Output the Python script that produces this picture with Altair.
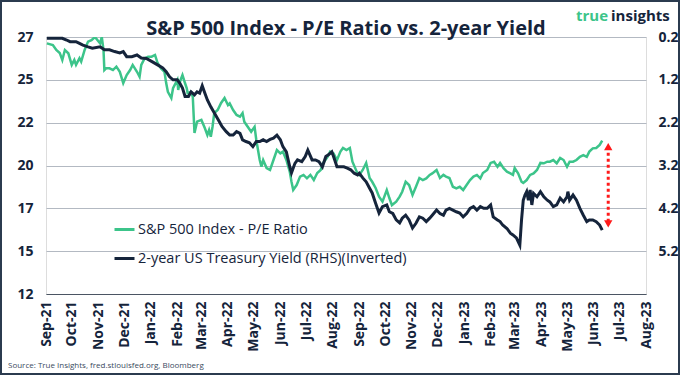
import altair as alt
import pandas as pd

PE_NAME = "S&P 500 Index - P/E Ratio"
Y2_NAME = "2-year US Treasury Yield (RHS)(Inverted)"
TITLE = "S&P 500 Index - P/E Ratio vs. 2-year Yield"

pe_dates = [
    "2021-09-02", "2021-09-09", "2021-09-13", "2021-09-17", "2021-09-20", "2021-09-23", "2021-09-27",
    "2021-10-01", "2021-10-04", "2021-10-06", "2021-10-10", "2021-10-12", "2021-10-16", "2021-10-20",
    "2021-10-24", "2021-10-28", "2021-11-03", "2021-11-05", "2021-11-07", "2021-11-08", "2021-11-10",
    "2021-11-14", "2021-11-18", "2021-11-22", "2021-11-26", "2021-11-30", "2021-12-04", "2021-12-08",
    "2021-12-11", "2021-12-16", "2021-12-19", "2021-12-21", "2021-12-25", "2021-12-29", "2022-01-02",
    "2022-01-06", "2022-01-09", "2022-01-13", "2022-01-17", "2022-01-19", "2022-01-21", "2022-01-25",
    "2022-01-27", "2022-02-01", "2022-02-02", "2022-02-04", "2022-02-07", "2022-02-10", "2022-02-12",
    "2022-02-13", "2022-02-17", "2022-02-19", "2022-02-21", "2022-02-24", "2022-03-01", "2022-03-05",
    "2022-03-08", "2022-03-10", "2022-03-12", "2022-03-14", "2022-03-16", "2022-03-20", "2022-03-24",
    "2022-03-28", "2022-04-01", "2022-04-03", "2022-04-07", "2022-04-11", "2022-04-15", "2022-04-18",
    "2022-04-20", "2022-04-24", "2022-04-28", "2022-05-02", "2022-05-04", "2022-05-08", "2022-05-10",
    "2022-05-12", "2022-05-16", "2022-05-20", "2022-05-24", "2022-05-28", "2022-06-01", "2022-06-04",
    "2022-06-08", "2022-06-12", "2022-06-14", "2022-06-16", "2022-06-20", "2022-06-24", "2022-06-28",
    "2022-07-02", "2022-07-06", "2022-07-10", "2022-07-14", "2022-07-18", "2022-07-21", "2022-07-26",
    "2022-07-29", "2022-08-02", "2022-08-06", "2022-08-10", "2022-08-13", "2022-08-17", "2022-08-21",
    "2022-08-24", "2022-08-29", "2022-09-01", "2022-09-05", "2022-09-09", "2022-09-13", "2022-09-16",
    "2022-09-20", "2022-09-24", "2022-09-28", "2022-10-03", "2022-10-06", "2022-10-09", "2022-10-14",
    "2022-10-18", "2022-10-21", "2022-10-25", "2022-10-29", "2022-11-02", "2022-11-06", "2022-11-10",
    "2022-11-14", "2022-11-18", "2022-11-22", "2022-11-25", "2022-11-30", "2022-12-04", "2022-12-08",
    "2022-12-11", "2022-12-15", "2022-12-19", "2022-12-23", "2022-12-27", "2022-12-31", "2023-01-04",
    "2023-01-08", "2023-01-12", "2023-01-16", "2023-01-20", "2023-01-23", "2023-01-28", "2023-02-01",
    "2023-02-05", "2023-02-09", "2023-02-12", "2023-02-16", "2023-02-20", "2023-02-24", "2023-02-27",
    "2023-03-01", "2023-03-05", "2023-03-09", "2023-03-11", "2023-03-15", "2023-03-19", "2023-03-23",
    "2023-03-27", "2023-03-31", "2023-04-04", "2023-04-08", "2023-04-11", "2023-04-15", "2023-04-19",
    "2023-04-23", "2023-04-27", "2023-05-01", "2023-05-04", "2023-05-08", "2023-05-12", "2023-05-16",
    "2023-05-20", "2023-05-24", "2023-05-27", "2023-05-31", "2023-06-04", "2023-06-08", "2023-06-11",
]
pe_values = [
    26.83, 26.73, 26.44, 26.27, 25.86, 26.44, 26.25,
    25.57, 25.86, 25.57, 25.96, 25.76, 26.44, 26.93,
    27.02, 27.20, 26.83, 27.20, 26.44, 25.27, 25.37,
    25.37, 25.27, 25.47, 25.17, 24.51, 24.98, 25.27,
    25.57, 25.17, 24.88, 25.57, 25.96, 26.05, 26.05,
    26.15, 25.68, 25.37, 25.17, 24.51, 24.00, 23.64,
    24.21, 24.69, 24.11, 24.59, 24.98, 24.50, 24.21,
    23.93, 23.99, 23.71, 21.60, 22.26, 22.36, 21.89,
    21.48, 21.77, 21.38, 21.96, 22.76, 22.94, 23.35,
    23.64, 23.23, 23.33, 22.94, 22.65, 22.55, 22.76,
    22.26, 21.96, 21.67, 21.96, 21.19, 20.02, 19.63,
    20.02, 19.55, 19.44, 20.02, 20.60, 20.41, 20.51,
    20.02, 19.34, 18.75, 18.27, 18.56, 19.05, 19.15,
    18.95, 19.15, 18.85, 19.26, 19.44, 19.85, 20.21,
    20.51, 20.41, 20.02, 20.51, 20.72, 20.60, 20.72,
    19.92, 19.34, 19.15, 19.44, 19.85, 18.97, 18.75,
    18.39, 17.88, 17.59, 18.27, 17.80, 17.39, 17.59,
    17.88, 18.17, 18.75, 18.56, 17.98, 18.46, 18.97,
    18.85, 18.95, 19.15, 19.24, 19.44, 18.97, 19.15,
    19.05, 18.97, 18.46, 18.37, 18.46, 18.27, 18.56,
    18.85, 19.05, 19.15, 18.95, 19.26, 19.44, 19.85,
    19.92, 19.63, 19.85, 19.54, 19.34, 19.24, 19.15,
    19.55, 19.24, 18.75, 18.68, 18.85, 19.15, 19.24,
    19.44, 19.85, 19.83, 19.92, 19.92, 20.02, 19.83,
    20.14, 20.02, 19.63, 19.92, 19.92, 20.02, 20.21,
    20.31, 20.21, 20.51, 20.70, 20.72, 20.90, 21.15,
]

y2_dates = [
    "2021-09-02", "2021-09-11", "2021-09-20", "2021-09-25", "2021-09-29", "2021-10-06", "2021-10-10",
    "2021-10-14", "2021-10-20", "2021-10-25", "2021-11-03", "2021-11-08", "2021-11-14", "2021-11-20",
    "2021-11-26", "2021-11-30", "2021-12-04", "2021-12-10", "2021-12-16", "2021-12-21", "2021-12-27",
    "2022-01-03", "2022-01-09", "2022-01-15", "2022-01-19", "2022-01-23", "2022-01-27", "2022-02-01",
    "2022-02-04", "2022-02-07", "2022-02-10", "2022-02-14", "2022-02-17", "2022-02-21", "2022-02-24",
    "2022-02-27", "2022-03-02", "2022-03-05", "2022-03-08", "2022-03-12", "2022-03-16", "2022-03-22",
    "2022-03-25", "2022-03-30", "2022-04-03", "2022-04-07", "2022-04-11", "2022-04-15", "2022-04-18",
    "2022-04-22", "2022-04-26", "2022-04-30", "2022-05-04", "2022-05-08", "2022-05-12", "2022-05-16",
    "2022-05-20", "2022-05-24", "2022-05-28", "2022-06-01", "2022-06-04", "2022-06-08", "2022-06-12",
    "2022-06-14", "2022-06-18", "2022-06-21", "2022-06-26", "2022-06-30", "2022-07-03", "2022-07-08",
    "2022-07-12", "2022-07-16", "2022-07-20", "2022-07-24", "2022-07-27", "2022-07-31", "2022-08-02",
    "2022-08-06", "2022-08-10", "2022-08-14", "2022-08-18", "2022-08-22", "2022-08-26", "2022-08-30",
    "2022-09-01", "2022-09-05", "2022-09-09", "2022-09-13", "2022-09-16", "2022-09-20", "2022-09-24",
    "2022-09-28", "2022-10-03", "2022-10-06", "2022-10-10", "2022-10-14", "2022-10-18", "2022-10-21",
    "2022-10-25", "2022-10-29", "2022-11-02", "2022-11-06", "2022-11-10", "2022-11-14", "2022-11-18",
    "2022-11-22", "2022-11-25", "2022-11-30", "2022-12-04", "2022-12-08", "2022-12-11", "2022-12-15",
    "2022-12-19", "2022-12-23", "2022-12-27", "2022-12-31", "2023-01-04", "2023-01-08", "2023-01-12",
    "2023-01-16", "2023-01-20", "2023-01-24", "2023-01-28", "2023-02-01", "2023-02-04", "2023-02-09",
    "2023-02-12", "2023-02-15", "2023-02-20", "2023-02-24", "2023-02-27", "2023-03-03", "2023-03-07",
    "2023-03-09", "2023-03-11", "2023-03-13", "2023-03-15", "2023-03-17", "2023-03-19", "2023-03-21",
    "2023-03-23", "2023-03-27", "2023-03-31", "2023-04-04", "2023-04-08", "2023-04-11", "2023-04-15",
    "2023-04-19", "2023-04-23", "2023-04-27", "2023-05-01", "2023-05-02", "2023-05-04", "2023-05-08",
    "2023-05-12", "2023-05-16", "2023-05-20", "2023-05-24", "2023-05-27", "2023-05-31", "2023-06-04",
    "2023-06-08", "2023-06-11",
]
y2_values = [
    0.23, 0.23, 0.23, 0.27, 0.31, 0.31, 0.35,
    0.39, 0.43, 0.46, 0.43, 0.50, 0.50, 0.54,
    0.57, 0.54, 0.66, 0.66, 0.62, 0.69, 0.70,
    0.78, 0.85, 0.92, 1.01, 1.13, 1.20, 1.20,
    1.28, 1.39, 1.59, 1.59, 1.48, 1.55, 1.48,
    1.51, 1.34, 1.51, 1.67, 1.83, 1.97, 2.18,
    2.29, 2.41, 2.49, 2.49, 2.41, 2.45, 2.60,
    2.64, 2.67, 2.76, 2.64, 2.64, 2.60, 2.64,
    2.59, 2.56, 2.49, 2.60, 2.76, 2.88, 3.23,
    3.37, 3.15, 3.07, 3.11, 2.99, 2.84, 3.07,
    3.07, 3.11, 3.23, 2.99, 2.95, 2.88, 2.99,
    3.23, 3.23, 3.23, 3.26, 3.30, 3.38, 3.42,
    3.38, 3.49, 3.58, 3.73, 3.84, 4.08, 4.31,
    4.16, 4.12, 4.28, 4.32, 4.47, 4.54, 4.43,
    4.36, 4.47, 4.66, 4.55, 4.40, 4.43, 4.51,
    4.43, 4.36, 4.24, 4.32, 4.36, 4.24, 4.20,
    4.24, 4.28, 4.31, 4.40, 4.32, 4.20, 4.16,
    4.24, 4.16, 4.20, 4.20, 4.12, 4.40, 4.47,
    4.51, 4.59, 4.67, 4.78, 4.82, 4.89, 5.06,
    4.47, 4.01, 3.89, 3.81, 4.01, 3.77, 4.12,
    3.85, 3.93, 3.81, 3.93, 4.01, 4.05, 4.16,
    4.12, 3.96, 4.05, 3.93, 3.81, 4.01, 3.89,
    4.01, 4.20, 4.36, 4.51, 4.47, 4.47, 4.51,
    4.59, 4.71,
]

pe_ticks = [12.2, 14.7, 17.2, 19.7, 22.2, 24.7, 27.2]
y2_ticks = [0.2, 1.2, 2.2, 3.2, 4.2, 5.2]
month_ticks = [(2021, m) for m in range(9, 13)] + [(2022, m) for m in range(1, 13)] + [(2023, m) for m in range(1, 9)]

arrow_date = ["2023-06-18"]
arrow_top = [20.8]
arrow_bottom = [16.3]

NAVY = "#15243b"
GREEN = "#3cc48a"
GRID = "#b3b9c2"
FONT = "Open Sans"

pe_df = pd.DataFrame({"date": pe_dates, "value": pe_values, "series": PE_NAME})
y2_df = pd.DataFrame({"date": y2_dates, "value": y2_values, "series": Y2_NAME})
arrow_df = pd.DataFrame({"date": arrow_date, "top": arrow_top, "bottom": arrow_bottom})
one = pd.DataFrame({"k": [0]})

x_scale = alt.Scale(
    type="utc",
    domain=[alt.DateTime(year=2021, month=9, date=1, utc=True),
            alt.DateTime(year=2023, month=8, date=1, utc=True)],
)
x_axis = alt.Axis(
    title=None,
    values=[alt.DateTime(year=y, month=m, date=1, utc=True) for y, m in month_ticks],
    labelExpr="utcFormat(datum.value, '%b-%y')",
    labelAngle=270, labelFont=FONT, labelFontSize=14, labelFontWeight="bold",
    labelColor=NAVY, labelPadding=7, ticks=False, grid=False,
    domainColor="#4b5563", domainWidth=1, labelOverlap=False, labelFlush=False,
)
x_enc = alt.X("date:T", scale=x_scale, axis=x_axis)

pe_scale = alt.Scale(domain=[12.2, 27.2], nice=False, zero=False)
left_axis = alt.Axis(
    title=None, orient="left", values=pe_ticks, format=".0f",
    labelFont=FONT, labelFontSize=14, labelFontWeight="bold", labelColor=NAVY,
    labelPadding=13, ticks=False, domain=False,
    grid=True, gridColor=GRID, gridWidth=1,
)
y2_scale = alt.Scale(domain=[0.2, 6.2], nice=False, zero=False, reverse=True)
right_axis = alt.Axis(
    title=None, orient="right", values=y2_ticks, format=".1f",
    labelFont=FONT, labelFontSize=14, labelFontWeight="bold", labelColor=NAVY,
    labelPadding=12, ticks=False, domain=False, grid=False,
)

color_scale = alt.Scale(domain=[PE_NAME, Y2_NAME], range=[GREEN, NAVY])
legend = alt.Legend(
    title=None, orient="none", legendX=67, legendY=181,
    symbolType="stroke", symbolSize=400, symbolStrokeWidth=3,
    labelFont=FONT, labelFontSize=14.5, labelColor=NAVY,
    rowPadding=11, labelOffset=2, labelLimit=400,
)

green = alt.Chart(pe_df).mark_line(strokeWidth=2.5, clip=True).encode(
    x=x_enc,
    y=alt.Y("value:Q", scale=pe_scale, axis=left_axis),
    color=alt.Color("series:N", scale=color_scale, legend=legend),
)

arrow_rule = alt.Chart(arrow_df).mark_rule(color="#ff1a1a", strokeWidth=3, strokeDash=[3, 3]).encode(
    x=x_enc,
    y=alt.Y("top:Q", scale=pe_scale, axis=left_axis),
    y2="bottom:Q",
)
arrow_up = alt.Chart(arrow_df).mark_point(shape="triangle-up", filled=True, color="#ff1a1a", size=70, opacity=1).encode(
    x=x_enc,
    y=alt.Y("top:Q", scale=pe_scale, axis=left_axis),
)
arrow_down = alt.Chart(arrow_df).mark_point(shape="triangle-down", filled=True, color="#ff1a1a", size=70, opacity=1).encode(
    x=x_enc,
    y=alt.Y("bottom:Q", scale=pe_scale, axis=left_axis),
)

title = alt.Chart(one).mark_text(
    text=TITLE, font=FONT, fontSize=20, fontWeight="bold", color=NAVY, align="center", baseline="alphabetic"
).encode(x=alt.value(300), y=alt.value(-2))
logo_true = alt.Chart(one).mark_text(
    text="true", font=FONT, fontSize=15, fontWeight="bold", color=GREEN, align="right", baseline="alphabetic"
).encode(x=alt.value(562), y=alt.value(-16))
logo_ins = alt.Chart(one).mark_text(
    text="insights", font=FONT, fontSize=15, fontWeight="bold", color=NAVY, align="left", baseline="alphabetic"
).encode(x=alt.value(565), y=alt.value(-16))
source = alt.Chart(one).mark_text(
    text="Source: True Insights, fred.stlouisfed.org, Bloomberg", font=FONT, fontSize=8,
    color="#3a4a5e", align="left", baseline="alphabetic"
).encode(x=alt.value(-38), y=alt.value(331))
border = alt.Chart(one).mark_rect(fillOpacity=0, stroke="#2b3b4f", strokeWidth=2).encode(
    x=alt.value(-45), x2=alt.value(633), y=alt.value(-36), y2=alt.value(337)
)

left_layer = alt.layer(green, arrow_rule, arrow_up, arrow_down, title, logo_true, logo_ins, source, border)

black = alt.Chart(y2_df).mark_line(strokeWidth=3).encode(
    x=x_enc,
    y=alt.Y("value:Q", scale=y2_scale, axis=right_axis),
    color=alt.Color("series:N", scale=color_scale, legend=legend),
)

chart = alt.layer(left_layer, black).resolve_scale(y="independent").properties(
    width=600, height=257,
    autosize=alt.AutoSizeParams(type="none"),
    padding={"left": 46, "top": 37, "right": 34, "bottom": 81},
).configure_view(stroke=None).configure(background="white")

chart.save("out.html", embed_options={"renderer": "svg", "actions": False})
